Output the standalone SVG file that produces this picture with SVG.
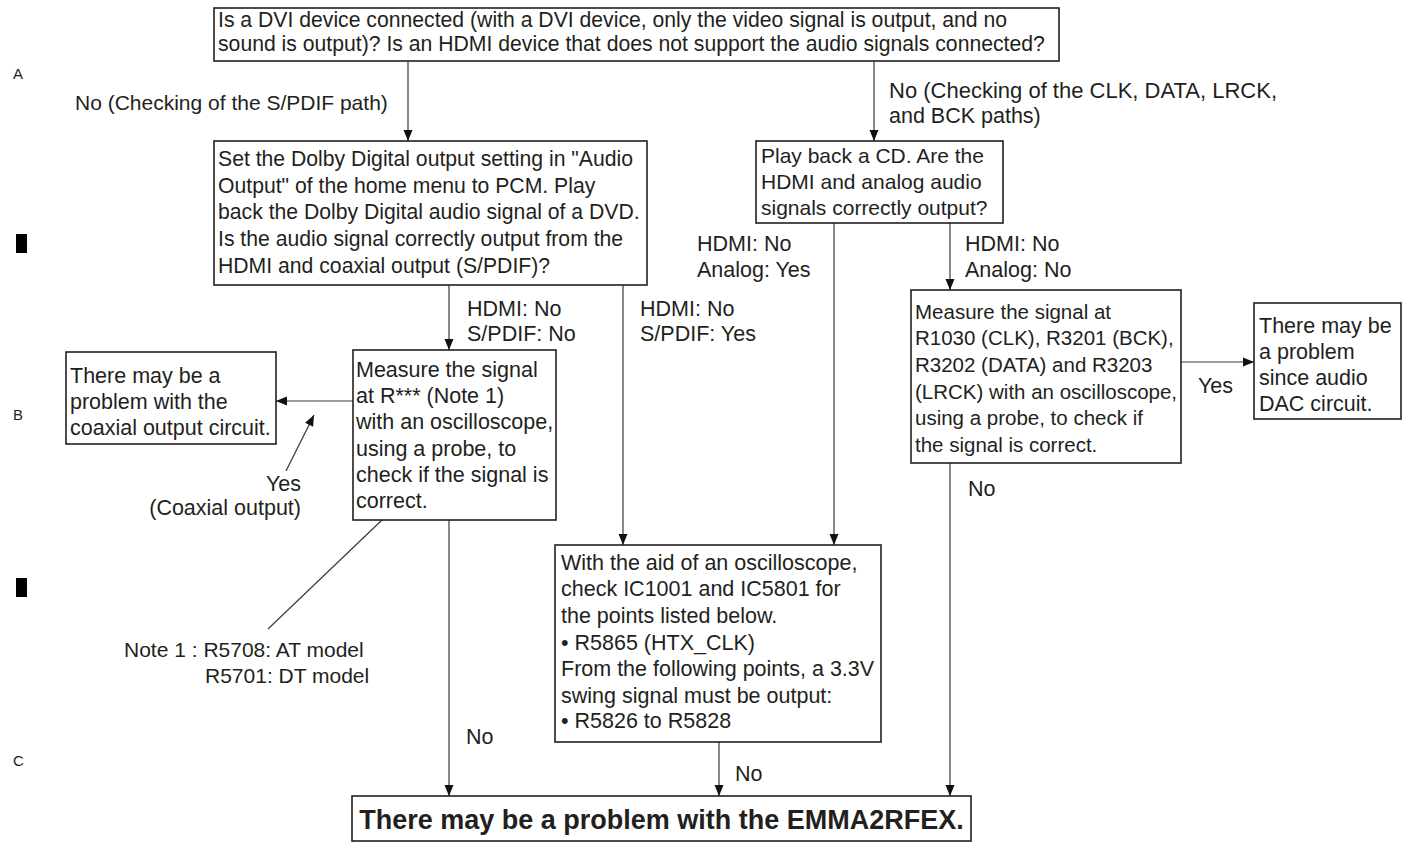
<svg xmlns="http://www.w3.org/2000/svg" width="1407" height="844" viewBox="0 0 1407 844">
<style>
text{font-family:"Liberation Sans",Arial,Helvetica,sans-serif;font-size:21.5px;fill:#231f20}
.box{fill:#fff;stroke:#231f20;stroke-width:1.6}
.ln{fill:none;stroke:#3a3a3a;stroke-width:1.2}
.big{font-size:27px;font-weight:bold}
.lbl{font-size:15px}
.s21{font-size:21px}
.s213{font-size:21.2px}
.s205{font-size:20.5px}
</style>
<defs>
<marker id="ah" markerUnits="userSpaceOnUse" markerWidth="12" markerHeight="10" refX="11" refY="5" orient="auto">
<path d="M0,0.5 L11,5 L0,9.5 z" fill="#111"/>
</marker>
</defs>
<rect width="1407" height="844" fill="#fff"/>
<g id="margin">
<text class="lbl" x="13" y="79">A</text>
<text class="lbl" x="13" y="420">B</text>
<text class="lbl" x="13" y="766">C</text>
<rect x="16" y="234" width="11" height="19" fill="#000"/>
<rect x="16" y="578" width="11" height="19" fill="#000"/>
</g>
<g id="connectors">
<path class="ln" d="M408 61 V141" marker-end="url(#ah)"/>
<path class="ln" d="M874 61 V141" marker-end="url(#ah)"/>
<path class="ln" d="M449 285 V350" marker-end="url(#ah)"/>
<path class="ln" d="M623 285 V545" marker-end="url(#ah)"/>
<path class="ln" d="M834 223 V545" marker-end="url(#ah)"/>
<path class="ln" d="M950 223 V290" marker-end="url(#ah)"/>
<path class="ln" d="M1181 362 H1254" marker-end="url(#ah)"/>
<path class="ln" d="M353 401 H276" marker-end="url(#ah)"/>
<path class="ln" d="M286 471 L314 415" marker-end="url(#ah)"/>
<path class="ln" d="M382 520 L268 629"/>
<path class="ln" d="M449 520 V796" marker-end="url(#ah)"/>
<path class="ln" d="M719 742 V796" marker-end="url(#ah)"/>
<path class="ln" d="M950 463 V796" marker-end="url(#ah)"/>
</g>
<g id="labels">
<text class="s21" x="75" y="110">No (Checking of the S/PDIF path)</text>
<text x="889" y="98" style="font-size:22px">No (Checking of the CLK, DATA, LRCK,</text>
<text x="889" y="123">and BCK paths)</text>
<text x="697" y="251">HDMI: No</text>
<text x="697" y="277">Analog: Yes</text>
<text x="965" y="251">HDMI: No</text>
<text x="965" y="277">Analog: No</text>
<text x="467" y="316">HDMI: No</text>
<text x="467" y="341">S/PDIF: No</text>
<text x="640" y="316">HDMI: No</text>
<text x="640" y="341">S/PDIF: Yes</text>
<text x="1198" y="393">Yes</text>
<text x="301" y="491" text-anchor="end">Yes</text>
<text x="301" y="515" text-anchor="end">(Coaxial output)</text>
<text class="s21" x="124" y="657">Note 1 : R5708: AT model</text>
<text class="s21" x="205" y="683">R5701: DT model</text>
<text x="466" y="744">No</text>
<text x="968" y="496">No</text>
<text x="735" y="781">No</text>
</g>
<g id="n-top">
<rect class="box" x="214" y="8" width="845" height="53"/>
<text class="s213" x="218" y="27">Is a DVI device connected (with a DVI device, only the video signal is output, and no</text>
<text class="s213" x="218" y="51">sound is output)? Is an HDMI device that does not support the audio signals connected?</text>
</g>
<g id="n-dolby">
<rect class="box" x="214" y="141" width="433" height="144"/>
<text class="s213" x="218" y="166">Set the Dolby Digital output setting in "Audio</text>
<text class="s213" x="218" y="193">Output" of the home menu to PCM. Play</text>
<text class="s213" x="218" y="219">back the Dolby Digital audio signal of a DVD.</text>
<text class="s213" x="218" y="246">Is the audio signal correctly output from the</text>
<text class="s213" x="218" y="273">HDMI and coaxial output (S/PDIF)?</text>
</g>
<g id="n-cd">
<rect class="box" x="756" y="141" width="247" height="82"/>
<text class="s21" x="761" y="163">Play back a CD. Are the</text>
<text class="s21" x="761" y="189">HDMI and analog audio</text>
<text class="s21" x="761" y="215">signals correctly output?</text>
</g>
<g id="n-rxxx">
<rect class="box" x="353" y="350" width="203" height="170"/>
<text x="356" y="377">Measure the signal</text>
<text x="356" y="403">at R*** (Note 1)</text>
<text x="356" y="429">with an oscilloscope,</text>
<text x="356" y="456">using a probe, to</text>
<text x="356" y="482">check if the signal is</text>
<text x="356" y="508">correct.</text>
</g>
<g id="n-coax">
<rect class="box" x="66" y="352" width="210" height="92"/>
<text x="70" y="383">There may be a</text>
<text x="70" y="409">problem with the</text>
<text x="70" y="435">coaxial output circuit.</text>
</g>
<g id="n-measure">
<rect class="box" x="911" y="290" width="270" height="173"/>
<text class="s205" x="915" y="319">Measure the signal at</text>
<text class="s205" x="915" y="345">R1030 (CLK), R3201 (BCK),</text>
<text class="s205" x="915" y="372">R3202 (DATA) and R3203</text>
<text class="s205" x="915" y="399">(LRCK) with an oscilloscope,</text>
<text class="s205" x="915" y="425">using a probe, to check if</text>
<text class="s205" x="915" y="452">the signal is correct.</text>
</g>
<g id="n-dac">
<rect class="box" x="1254" y="303" width="147" height="116"/>
<text x="1259" y="333">There may be</text>
<text x="1259" y="359">a problem</text>
<text x="1259" y="385">since audio</text>
<text x="1259" y="411">DAC circuit.</text>
</g>
<g id="n-osc">
<rect class="box" x="555" y="545" width="326" height="197"/>
<text x="561" y="570">With the aid of an oscilloscope,</text>
<text x="561" y="596">check IC1001 and IC5801 for</text>
<text x="561" y="623">the points listed below.</text>
<text x="561" y="650">• R5865 (HTX_CLK)</text>
<text x="561" y="676">From the following points, a 3.3V</text>
<text x="561" y="703">swing signal must be output:</text>
<text x="561" y="728">• R5826 to R5828</text>
</g>
<g id="n-final">
<rect class="box" x="352" y="796" width="619" height="45"/>
<text class="big" x="661.5" y="829" text-anchor="middle">There may be a problem with the EMMA2RFEX.</text>
</g>
</svg>
